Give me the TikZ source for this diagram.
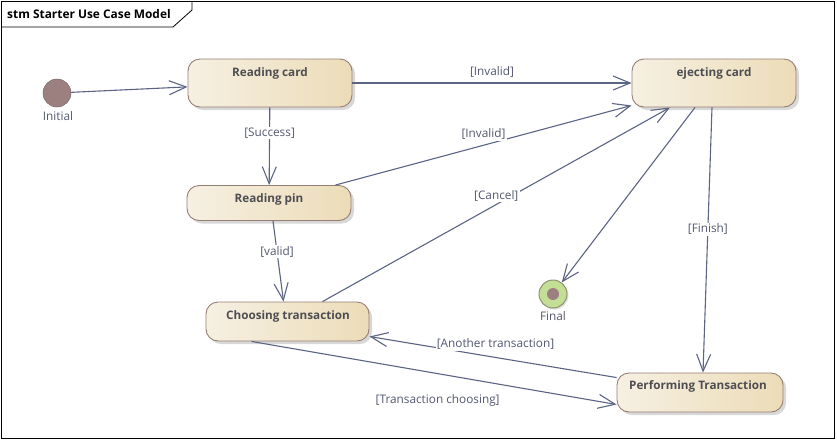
\documentclass[tikz,border=0pt]{standalone}
\usepackage{fontspec}
\setmainfont{Open Sans}
\usetikzlibrary{arrows.meta,shadows}
\definecolor{trait}{RGB}{92,100,132}
\definecolor{bordure}{RGB}{150,126,116}
\definecolor{clair}{RGB}{246,240,226}
\definecolor{fonce}{RGB}{236,220,184}
\definecolor{texteetat}{RGB}{78,78,82}
\definecolor{textegarde}{RGB}{84,88,112}
\definecolor{initfond}{RGB}{156,128,128}
\definecolor{finfond}{RGB}{196,222,150}
\definecolor{finbord}{RGB}{140,150,110}
\begin{document}
\begin{tikzpicture}[x=1pt, y=-1pt]
			\tikzset{etat/.style={rounded corners=12pt, draw=bordure, line width=0.9pt, left color=clair, right color=fonce, minimum width=164pt, inner sep=0pt, drop shadow={shadow xshift=3pt, shadow yshift=-3pt, fill=black!30, opacity=0.5}},
				nometat/.style={font=\fontsize{11.7}{13}\selectfont\bfseries, text=texteetat, inner sep=0pt},
				fleche/.style={draw=trait, line width=1.1pt, -{Straight Barb[length=17pt, width=14pt, line width=1.1pt]}},
				garde/.style={font=\fontsize{11.8}{13}\selectfont, text=textegarde, fill=white, inner sep=1.2pt},
				etiquette/.style={font=\fontsize{11.8}{13}\selectfont, text=textegarde, inner sep=0pt}};

			\useasboundingbox (0,0) rectangle (837,440);
			\draw[line width=0.8pt] (1,1) rectangle (834,438);
			\draw[line width=0.8pt] (1,27) -- (173,27) -- (192,10) -- (192,1);
			\node[anchor=west, font=\fontsize{11.9}{13}\selectfont\bfseries, inner sep=0pt] (titre) at (7,14) {stm Starter Use Case Model};

			\node[circle, fill=initfond, draw=initfond!80!black, line width=0.5pt, minimum size=28pt, inner sep=0pt] (ini) at (57,93) {};
			\node[etiquette] (ini-nom) at (58,116) {Initial};

			\node[circle, fill=finfond, draw=finbord, line width=1pt, minimum size=28pt, inner sep=0pt, drop shadow={shadow xshift=1.5pt, shadow yshift=-1.5pt, fill=black!30, opacity=0.4}] (fin) at (553,294) {};
			\node[circle, fill=initfond, minimum size=12pt, inner sep=0pt] (fin-pt) at (fin) {};
			\node[etiquette] (fin-nom) at (553,316) {Final};

			\node[etat, minimum height=48pt] (lc) at (270,  83) {};
			\node[etat, minimum height=48pt] (ec) at (714,  83) {};
			\node[etat, minimum height=35pt] (lp) at (269, 203) {};
			\node[etat, minimum height=39pt, minimum width=163pt] (ct) at (287.5, 321.5) {};
			\node[etat, minimum height=39pt, minimum width=166pt] (et) at (700, 392.5) {};

			\node[nometat] (lc-nom) at (270,  73.5) {Reading card};
			\node[nometat] (ec-nom) at (714,  73.5) {ejecting card};
			\node[nometat] (lp-nom) at (269, 199.5) {Reading pin};
			\node[nometat] (ct-nom) at (288, 316.5) {Choosing transaction};
			\node[nometat] (et-nom) at (698, 386.5) {Performing Transaction};

			\draw[fleche] (ini) to (lc);
			\draw[fleche] (lc) to node[garde, pos=0.5, yshift=11pt] {[Invalid]} (ec);
			\draw[fleche] (lc) to node[garde, pos=0.33] {[Success]} (lp);
			\draw[fleche] ([xshift=-16pt]lp.north east) to node[garde, pos=0.5, yshift=11pt] {[Invalid]} ([yshift=2pt]ec.south west);
			\draw[fleche] ([xshift=4pt]lp.south) to node[garde, pos=0.38] {[valid]} ([xshift=-4pt]ct.north);
			\draw[fleche] ([xshift=35pt]ct.north) to node[garde, pos=0.5, yshift=9pt] {[Cancel]} ([xshift=-44pt]ec.south);
			\draw[fleche] ([xshift=-19pt]ec.south) to (fin);
			\draw[fleche] ([xshift=-2pt]ec.south) to node[garde, pos=0.46] {[Finish]} ([xshift=3pt]et.north);
			\draw[fleche] ([yshift=-5pt]et.north west) to node[garde, pos=0.49, yshift=13pt] {[Another transaction]} ([yshift=-15pt]ct.east);
			\draw[fleche] ([xshift=-36pt]ct.south) to node[garde, pos=0.51, yshift=-27pt] {[Transaction choosing]} ([yshift=-12pt]et.west);
		\end{tikzpicture}
\end{document}
